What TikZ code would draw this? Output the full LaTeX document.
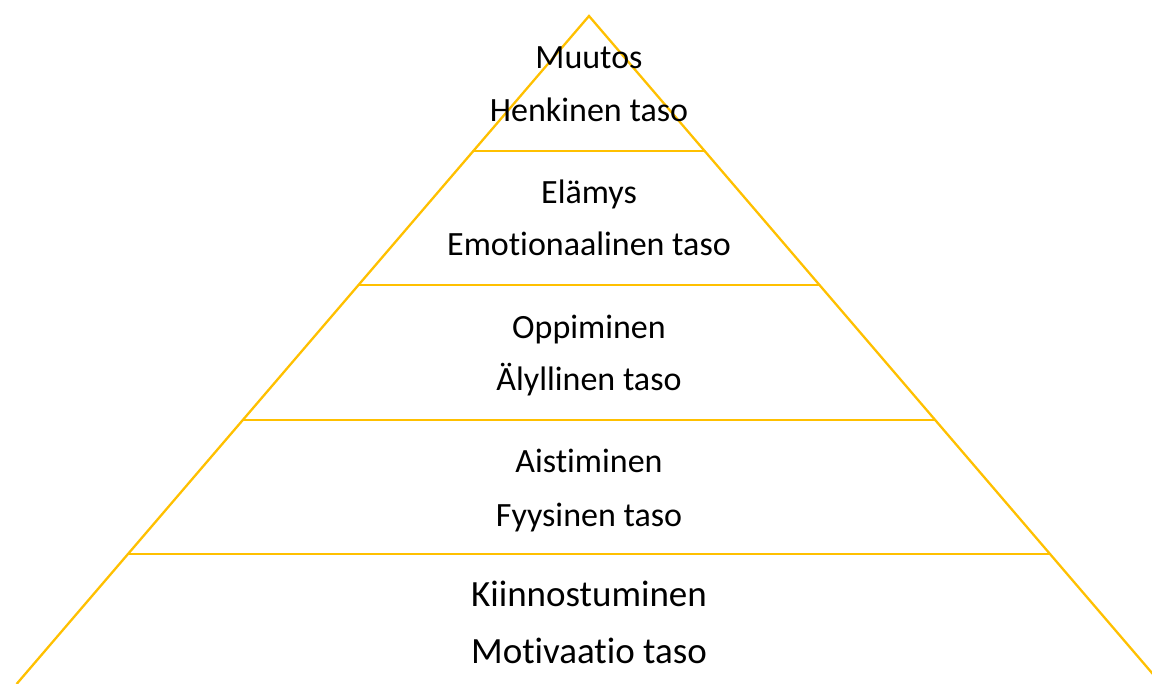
\documentclass[tikz,border=0pt]{standalone}
\usepackage{fontspec}
\setmainfont[Ligatures={NoCommon}]{Carlito}
\usetikzlibrary{calc}
\definecolor{gold}{HTML}{FFC000}
\tikzset{
  edge/.style={draw=gold, line width=2.3pt},
  lbl/.style={anchor=base, inner sep=0pt, font=\fontsize{34}{40}\selectfont},
  lblbig/.style={anchor=base, inner sep=0pt, font=\fontsize{37}{44}\selectfont}
}
\begin{document}
\begin{tikzpicture}[x=1pt, y=-1pt]
\useasboundingbox (0,0) rectangle (1152,684);
\clip (0,0) rectangle (1152,684);
\coordinate (apex) at (589,16);
\coordinate (bl) at (16.6,684);
\coordinate (br) at (1161.4,684);
\foreach \n/\y in {a/151,b/285,c/420,d/554}{
  \coordinate (L\n) at ($(apex)!{(\y-16)/668}!(bl)$);
  \coordinate (R\n) at ($(apex)!{(\y-16)/668}!(br)$);
}
\draw[edge, line join=miter] (bl) -- (apex) -- (br);
\draw[edge] (La) -- (Ra);
\draw[edge] (Lb) -- (Rb);
\draw[edge] (Lc) -- (Rc);
\draw[edge] (Ld) -- (Rd);
\node[lbl] (t1a) at (589,69) {Muutos};
\node[lbl] (t1b) at (589,122) {Henkinen taso};
\node[lbl] (t2a) at (589,204) {Elämys};
\node[lbl] (t2b) at (589,256) {Emotionaalinen taso};
\node[lbl] (t3a) at (589,339) {Oppiminen};
\node[lbl] (t3b) at (589,391) {Älyllinen taso};
\node[lbl] (t4a) at (589,473) {Aistiminen};
\node[lbl] (t4b) at (589,526) {Fyysinen taso};
\node[lblbig] (t5a) at (589,606) {Kiinnostuminen};
\node[lblbig] (t5b) at (589,663) {Motivaatio taso};
\end{tikzpicture}
\end{document}
